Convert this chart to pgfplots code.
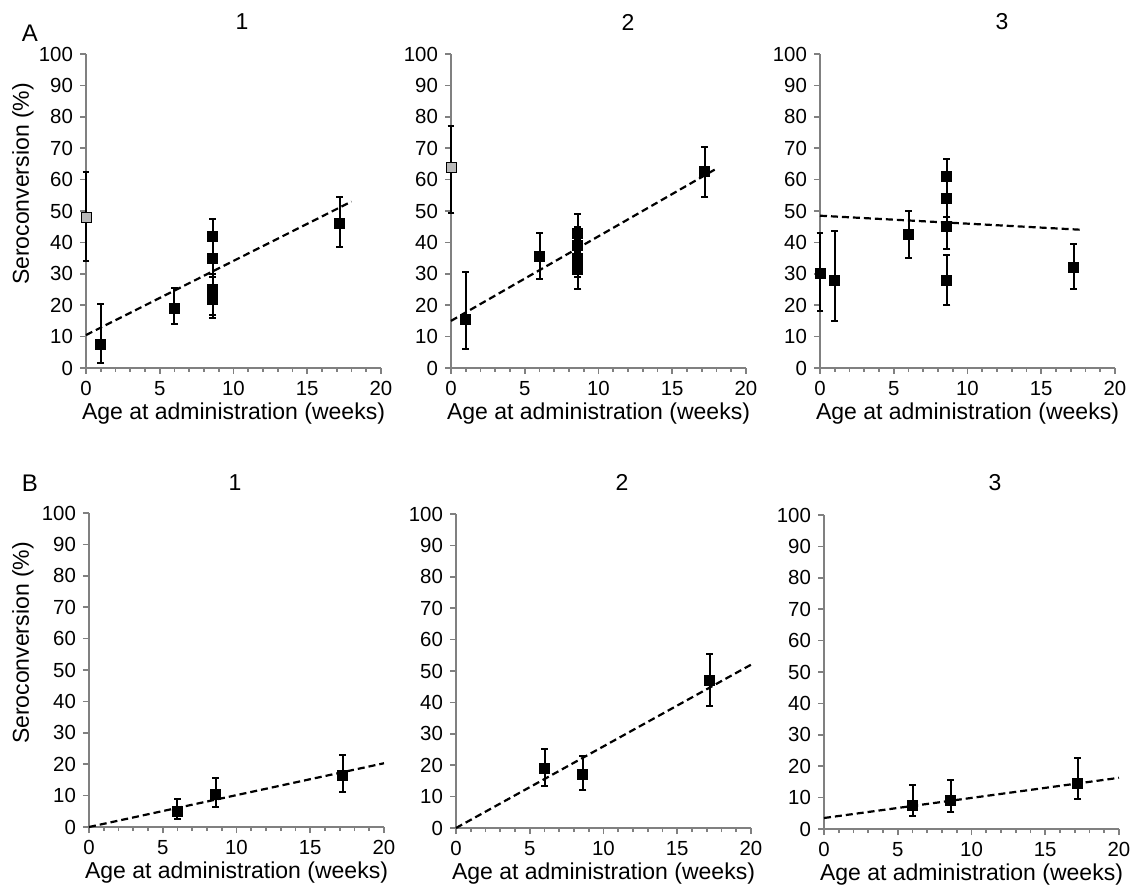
\documentclass[border=0pt]{standalone}
\usepackage{fontspec}
\setmainfont{Liberation Sans}
\usepackage{pgfplots}
\pgfplotsset{compat=1.18}
\definecolor{axgray}{RGB}{128,128,128}
\definecolor{ptgray}{RGB}{185,185,185}

\pgfplotsset{
  panel/.style={
    scale only axis, width=147.5pt, height=157pt,
    xmin=0, xmax=20, ymin=0, ymax=100,
    axis x line=bottom, axis y line=left,
    axis line style={-, draw=axgray, line width=0.9pt},
    xtick={0,5,...,20}, minor x tick num=4,
    ytick={0,10,...,100},
    tick align=outside,
    major tick length=3pt, minor tick length=2pt,
    every tick/.append style={draw=axgray, line width=0.8pt},
    tick label style={font=\fontsize{10.2}{12}\selectfont, black},
    /pgf/number format/assume math mode=true,
    clip=false,
    xlabel={Age at administration (weeks)},
    xlabel style={font=\fontsize{11.5}{13}\selectfont,
      at={(axis description cs:0.5,0)}, anchor=center, yshift=-23pt},
  },
  pts/.style={only marks, mark=square*, mark size=2.5pt, black,
    mark options={fill=#1, draw=black},
    error bars/.cd, y dir=both, y explicit,
    error bar style={line width=1pt, black},
    error mark options={rotate=90, mark size=1.7pt, line width=1pt}},
  pts/.default=black,
  fit/.style={black, line width=1.1pt, dash pattern=on 3.5pt off 2pt, no marks},
}
\pgfkeys{/pgfplots/table/ebars/.style={x=x, y=y,
  y error plus expr=\thisrow{hi}-\thisrow{y},
  y error minus expr=\thisrow{y}-\thisrow{lo}}}

\begin{document}
\begin{tikzpicture}
\useasboundingbox (0,0) rectangle (568.5pt,-443.5pt);

% ---- row A ----
\begin{axis}[panel, at={(43pt,-184pt)}]
  \addplot[fit] coordinates {(0,10.5) (18,53)};
  \addplot[pts=ptgray] table[ebars] {
x y lo hi
0 48 34 62.5
};
  \addplot[pts] table[ebars] {
x y lo hi
1 7.5 1.5 20.5
6 19 14 25.5
8.6 42 36 47.5
8.6 35 29 41
8.6 25 17 30
8.6 22 16 29
17.2 46 38.5 54.5
};
\end{axis}

\begin{axis}[panel, at={(225.5pt,-184pt)}]
  \addplot[fit] coordinates {(0,15) (18,63.5)};
  \addplot[pts=ptgray] table[ebars] {
x y lo hi
0 64 49.5 77
};
  \addplot[pts] table[ebars] {
x y lo hi
1 15.5 6 30.5
6 35.5 28.5 43
8.6 43 37 49
8.6 39 33 45
8.6 35 29 41
8.6 31.5 25 38
17.2 62.5 54.5 70.5
};
\end{axis}

\begin{axis}[panel, at={(410pt,-184pt)}]
  \addplot[fit] coordinates {(0,48.5) (17.8,44)};
  \addplot[pts] table[ebars] {
x y lo hi
0 30 18 43
1 28 15 43.5
6 42.5 35 50
8.6 61 55.5 66.5
8.6 54 48 60
8.6 45 38 52.5
8.6 28 20 36
17.2 32 25 39.5
};
\end{axis}

% ---- row B ----
\begin{axis}[panel, at={(44.5pt,-413.5pt)}]
  \addplot[fit] coordinates {(0,0) (20,20.3)};
  \addplot[pts] table[ebars] {
x y lo hi
6 5 2.5 9
8.6 10.5 6.5 15.5
17.2 16.5 11 23
};
\end{axis}

\begin{axis}[panel, at={(228pt,-414pt)}]
  \addplot[fit] coordinates {(0,0) (20,52)};
  \addplot[pts] table[ebars] {
x y lo hi
6 19 13.5 25
8.6 17 12 23
17.2 47 39 55.5
};
\end{axis}

\begin{axis}[panel, at={(412pt,-414.5pt)}]
  \addplot[fit] coordinates {(0,3.5) (20,16.3)};
  \addplot[pts] table[ebars] {
x y lo hi
6 7.5 4 14
8.6 9 5.5 15.5
17.2 14.5 9.5 22.5
};
\end{axis}

% titles, panel letters, y labels
\begin{scope}[every node/.style={font=\fontsize{11.5}{13}\selectfont, inner sep=0pt}]
  \node at (121pt,-11pt) {1};
  \node at (314pt,-11pt) {2};
  \node at (501pt,-11pt) {3};
  \node at (117.5pt,-241.5pt) {1};
  \node at (311pt,-241pt) {2};
  \node at (497.5pt,-241.5pt) {3};
\end{scope}
\node[font=\fontsize{12}{14}\selectfont, inner sep=0pt] at (15pt,-16.5pt) {A};
\node[font=\fontsize{12}{14}\selectfont, inner sep=0pt] at (15pt,-241.5pt) {B};
\node[font=\fontsize{11.5}{13}\selectfont, rotate=90, inner sep=0pt] at (11.5pt,-92pt) {Seroconversion (\%)};
\node[font=\fontsize{11.5}{13}\selectfont, rotate=90, inner sep=0pt] at (11.5pt,-321.5pt) {Seroconversion (\%)};
\end{tikzpicture}
\end{document}
